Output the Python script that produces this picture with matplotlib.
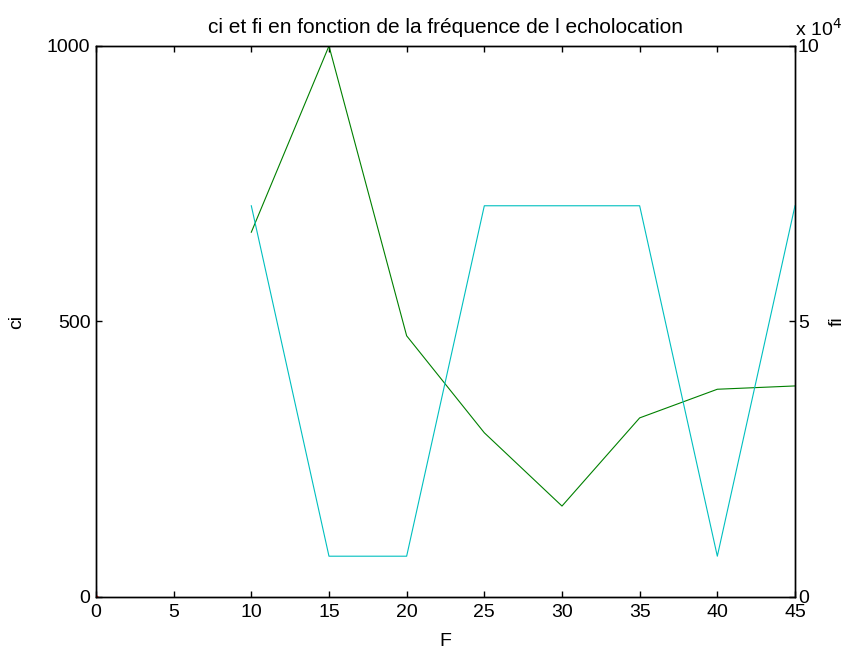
import numpy as np
import matplotlib
matplotlib.use("Agg")
import matplotlib.pyplot as plt
import matplotlib.ticker as ticker

plt.rcParams['font.family'] = ['Liberation Sans', 'DejaVu Sans']

# frequency of echolocation
F = [10, 15, 20, 25, 30, 35, 40, 45]
ci = [662, 1000, 474, 298, 165, 325, 377, 383]
fi = [71000, 7400, 7400, 71000, 71000, 71000, 7400, 71000]

# stray points left at the origin
blue_x = [0, 0]
blue_y = [0, 18]
red_x = [0]
red_y = [0]

fig = plt.figure(figsize=(8.47, 6.53), dpi=100)
ax = fig.add_axes([0.1133, 0.0858, 0.8253, 0.8438])
ax2 = ax.twinx()

ax.plot(F, ci, color='#008000', linewidth=0.8)
ax.plot(blue_x, blue_y, color='#0000ff', linewidth=1.5)
ax.plot(red_x, red_y, 'o', color='#ff0000', markersize=2)
ax2.plot(F, fi, color='#00bfbf', linewidth=0.8)

ax.set_xlim(0, 45)
ax.set_ylim(0, 1000)
ax2.set_ylim(0, 1e5)

ax.xaxis.set_major_locator(ticker.MultipleLocator(5))
ax.set_yticks([0, 500, 1000])
ax2.set_yticks([0, 5e4, 1e5])
ax2.yaxis.set_major_formatter(ticker.FuncFormatter(lambda v, p: f"{v / 1e4:g}"))

ax.tick_params(axis='x', direction='in', length=4, width=1, top=True,
               labelsize=14, pad=5)
ax.tick_params(axis='y', direction='in', length=4, width=1, right=False,
               labelsize=14, pad=4)
ax2.tick_params(axis='y', direction='in', length=4, width=1, labelsize=14, pad=2)

for a in (ax, ax2):
    for s in a.spines.values():
        s.set_linewidth(1.0)
        s.set_color('black')

ax.set_title('ci et fi en fonction de la fréquence de l echolocation', fontsize=15, pad=9)
ax.set_xlabel('F', fontsize=14, labelpad=9)
ax.set_ylabel('ci', fontsize=14, labelpad=16)
ax2.set_ylabel('fi', fontsize=14, labelpad=7)
ax2.text(1.0, 1.012, r'x 10$^4$', transform=ax2.transAxes, fontsize=14,
         ha='left', va='bottom')

fig.savefig('out.png', dpi=100)
